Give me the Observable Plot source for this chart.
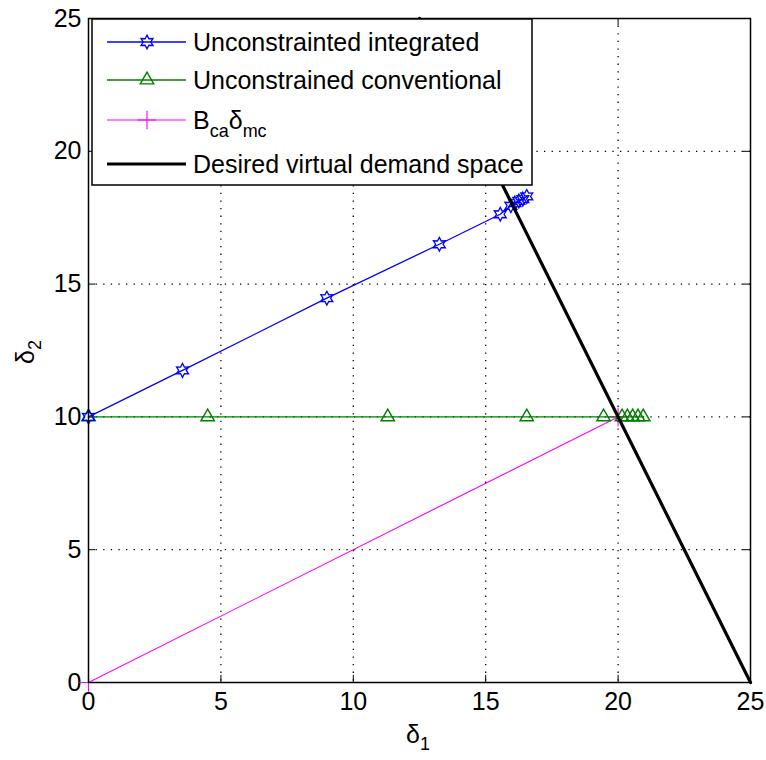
<!DOCTYPE html>
<html><head><meta charset="utf-8">
<script src="https://cdn.jsdelivr.net/npm/d3@7"></script>
<script src="https://cdn.jsdelivr.net/npm/@observablehq/plot@0.6"></script>
<style>
body{margin:0;background:#fff;}
#wrap{position:relative;width:766px;height:760px;}
</style>
</head><body><div id="wrap"></div>
<script>
// ---- data ----
const integratedX = [0, 3.55, 9.0, 13.25, 15.55, 15.95, 16.1, 16.25, 16.4, 16.55];
const integratedY = [10, 11.75, 14.47, 16.5, 17.63, 17.95, 18.05, 18.13, 18.2, 18.3];
const conventionalX = [0, 4.5, 11.3, 16.55, 19.45, 20.15, 20.35, 20.55, 20.75, 20.95];
const conventionalY = [10, 10, 10, 10, 10, 10, 10, 10, 10, 10];
const bcaX = [0, 20];
const bcaY = [0, 10];
const desiredX = [25, 12.5];
const desiredY = [0, 25];
const xTicks = [0, 5, 10, 15, 20, 25];
const yTicks = [0, 5, 10, 15, 20, 25];
const seriesNames = ["Unconstrainted integrated", "Unconstrained conventional", "B_ca δ_mc", "Desired virtual demand space"];

const FONT = '"Liberation Sans",Arial,sans-serif';
const FS = 25;
const toPts = (xs, ys) => xs.map((x, i) => ({x, y: ys[i]}));
const integrated = toPts(integratedX, integratedY);
const conventional = toPts(conventionalX, conventionalY);
const bca = toPts(bcaX, bcaY);
const desired = toPts(desiredX, desiredY);

// hexagram (MATLAB 'h') symbol
const hexagram = {
  draw(ctx, size) {
    const R = Math.sqrt(size / Math.PI) * 1.15, r = R * 0.55;
    for (let i = 0; i < 12; i++) {
      const a = -Math.PI / 2 + i * Math.PI / 6;
      const rr = i % 2 ? r : R;
      const px = rr * Math.cos(a), py = rr * Math.sin(a);
      i ? ctx.lineTo(px, py) : ctx.moveTo(px, py);
    }
    ctx.closePath();
  }
};

const tk = 0.27; // inner tick length in data units
const chart = Plot.plot({
  width: 766, height: 760,
  marginLeft: 88, marginRight: 16, marginTop: 18, marginBottom: 78,
  x: {domain: [0, 25], ticks: xTicks, label: null},
  y: {domain: [0, 25], ticks: yTicks, label: null},
  style: {fontFamily: FONT, fontSize: FS + "px", color: "#000", background: "#fff", overflow: "visible"},
  marks: [
    Plot.gridX(xTicks.slice(1, -1), {stroke: "#000", strokeOpacity: 1, strokeDasharray: "1.3,6.3", strokeWidth: 1.3}),
    Plot.gridY(yTicks.slice(1, -1), {stroke: "#000", strokeOpacity: 1, strokeDasharray: "1.3,6.3", strokeWidth: 1.3}),
    Plot.ruleX(xTicks, {x: d => d, y1: 0, y2: tk, stroke: "#000"}),
    Plot.ruleX(xTicks, {x: d => d, y1: 25 - tk, y2: 25, stroke: "#000"}),
    Plot.ruleY(yTicks, {y: d => d, x1: 0, x2: tk, stroke: "#000"}),
    Plot.ruleY(yTicks, {y: d => d, x1: 25 - tk, x2: 25, stroke: "#000"}),
    Plot.axisX(xTicks, {tickSize: 0, tickPadding: 10, fontSize: FS, label: null}),
    Plot.axisY(yTicks, {tickSize: 0, tickPadding: 7, fontSize: FS, label: null}),
    Plot.line(bca, {x: "x", y: "y", stroke: "#ff00ff", strokeWidth: 1.1}),
    Plot.dot(bca, {x: "x", y: "y", symbol: "plus", r: 6, stroke: "#ff00ff", strokeWidth: 1.1}),
    Plot.line(conventional, {x: "x", y: "y", stroke: "#008000", strokeWidth: 1.4}),
    Plot.dot(conventional, {x: "x", y: "y", symbol: "triangle", r: 5, stroke: "#008000", fill: "none", strokeWidth: 1.4}),
    Plot.line(integrated, {x: "x", y: "y", stroke: "#0000ff", strokeWidth: 1.3}),
    Plot.dot(integrated, {x: "x", y: "y", symbol: hexagram, r: 6, stroke: "#0000ff", fill: "none", strokeWidth: 1.3}),
    Plot.line(desired, {x: "x", y: "y", stroke: "#000", strokeWidth: 3.2}),
    Plot.frame({stroke: "#000", strokeWidth: 1.5})
  ]
});
document.getElementById("wrap").appendChild(chart);

// ---- axis labels and legend drawn on the svg ----
const svg = d3.select(chart);
const xl = svg.append("text").attr("x", 418).attr("y", 743).attr("text-anchor", "middle")
  .attr("font-family", FONT).attr("font-size", FS);
xl.append("tspan").text("δ");
xl.append("tspan").attr("font-size", 18).attr("dy", 7).text("1");
const yl = svg.append("text").attr("transform", "translate(34,352) rotate(-90)").attr("text-anchor", "middle")
  .attr("font-family", FONT).attr("font-size", FS);
yl.append("tspan").text("δ");
yl.append("tspan").attr("font-size", 18).attr("dy", 7).text("2");

const lg = svg.append("g").attr("text-anchor", "start");
lg.append("rect").attr("x", 92).attr("y", 19).attr("width", 440).attr("height", 166)
  .attr("fill", "#fff").attr("stroke", "#000").attr("stroke-width", 1.5);
const rowsY = [42, 80, 120, 164];
const colors = ["#0000ff", "#008000", "#ff00ff", "#000"];
const widths = [1.3, 1.4, 1.1, 3.2];
const syms = [hexagram, d3.symbolTriangle, d3.symbolPlus, null];
const symSize = [Math.PI * 36, Math.PI * 25, Math.PI * 36, 0];
seriesNames.forEach((name, i) => {
  const y = rowsY[i];
  lg.append("line").attr("x1", 107).attr("x2", 186).attr("y1", y).attr("y2", y)
    .attr("stroke", colors[i]).attr("stroke-width", widths[i]);
  if (syms[i]) {
    lg.append("path").attr("transform", `translate(147,${y})`)
      .attr("d", d3.symbol(syms[i], symSize[i])())
      .attr("fill", "none").attr("stroke", colors[i]).attr("stroke-width", widths[i]);
  }
  const t = lg.append("text").attr("x", 193).attr("y", y + 9).attr("text-anchor", "start")
    .attr("font-family", FONT).attr("font-size", FS);
  if (i === 2) {
    t.append("tspan").text("B");
    t.append("tspan").attr("font-size", 18).attr("dy", 8).text("ca");
    t.append("tspan").attr("dy", -8).text("δ");
    t.append("tspan").attr("font-size", 18).attr("dy", 8).text("mc");
  } else {
    t.text(name);
  }
});
</script>
</body></html>
